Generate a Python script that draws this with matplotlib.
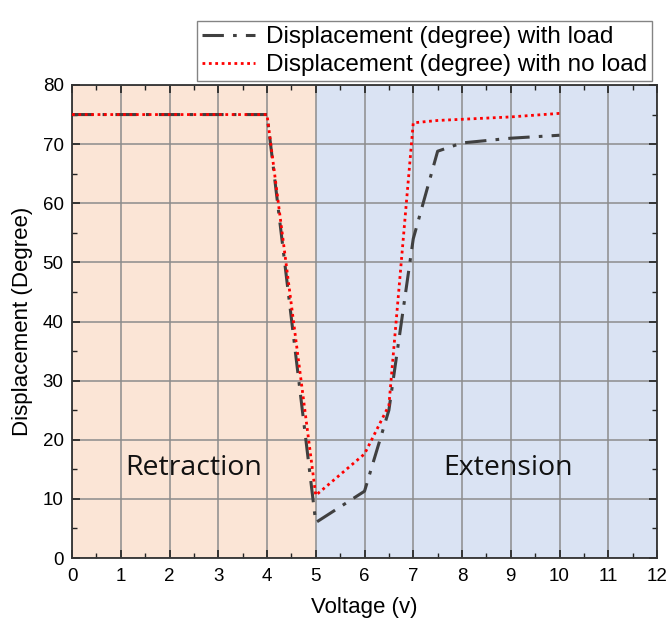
import matplotlib
matplotlib.use("Agg")
import matplotlib.pyplot as plt
from matplotlib.ticker import MultipleLocator

plt.rcParams['font.family'] = ['Liberation Sans', 'DejaVu Sans']

voltage = [0, 4, 5, 6, 6.5, 7, 7.5, 8, 9, 10]
disp_load = [75, 75, 6, 11.3, 25, 54, 68.8, 70.2, 71, 71.5]
disp_noload = [75, 75, 10.6, 17.6, 25.8, 73.6, 74, 74.2, 74.6, 75.2]
label_load = "Displacement (degree) with load"
label_noload = "Displacement (degree) with no load"
region_names = ["Retraction", "Extension"]

fig = plt.figure(figsize=(6.7, 6.19), dpi=100)
ax = fig.add_axes([0.1075, 0.0985, 0.8731, 0.7642])

ax.axvspan(0, 5, color='#fbe5d6', zorder=0, lw=0)
ax.axvspan(5, 12, color='#dae3f3', zorder=0, lw=0)

ax.plot(voltage, disp_load, color='#404040', lw=2.2, ls=(0, (7, 3, 1.2, 3)),
        label=label_load, zorder=3)
ax.plot(voltage, disp_noload, color='#ff0000', lw=2.0, ls=(0, (1, 1.3)),
        label=label_noload, zorder=4)

ax.set_xlim(0, 12)
ax.set_ylim(0, 80)
ax.xaxis.set_major_locator(MultipleLocator(1))
ax.xaxis.set_minor_locator(MultipleLocator(0.5))
ax.yaxis.set_major_locator(MultipleLocator(10))
ax.yaxis.set_minor_locator(MultipleLocator(5))
ax.tick_params(which='both', direction='in', top=True, right=True, labelsize=13.5, color='#222222')
ax.tick_params(axis='x', which='major', pad=7)
ax.tick_params(axis='y', which='major', pad=6)
ax.tick_params(which='major', length=6, width=1.2)
ax.tick_params(which='minor', length=3.5, width=1.0)
ax.grid(True, which='major', color='#8c8c8c', lw=1.1, zorder=1)
ax.set_axisbelow(True)
for s in ax.spines.values():
    s.set_linewidth(1.3)
    s.set_color('#333333')

ax.set_xlabel("Voltage (v)", fontsize=16, labelpad=9)
ax.set_ylabel("Displacement (Degree)", fontsize=16, labelpad=7)

ax.text(2.5, 15.2, region_names[0], fontsize=20.5, ha='center', va='center',
        family=['Open Sans', 'DejaVu Sans'], color='#111111')
ax.text(8.95, 15.2, region_names[1], fontsize=20.5, ha='center', va='center',
        family=['Open Sans', 'DejaVu Sans'], color='#111111')

leg = ax.legend(loc='lower right', bbox_to_anchor=(0.9915, 1.008), fontsize=17.5,
                frameon=True, fancybox=False, edgecolor='#666666',
                borderpad=0.2, labelspacing=0.25, handlelength=2.2,
                handletextpad=0.45, borderaxespad=0.0)
leg.get_frame().set_linewidth(1.0)

fig.savefig("out.png", dpi=100)
